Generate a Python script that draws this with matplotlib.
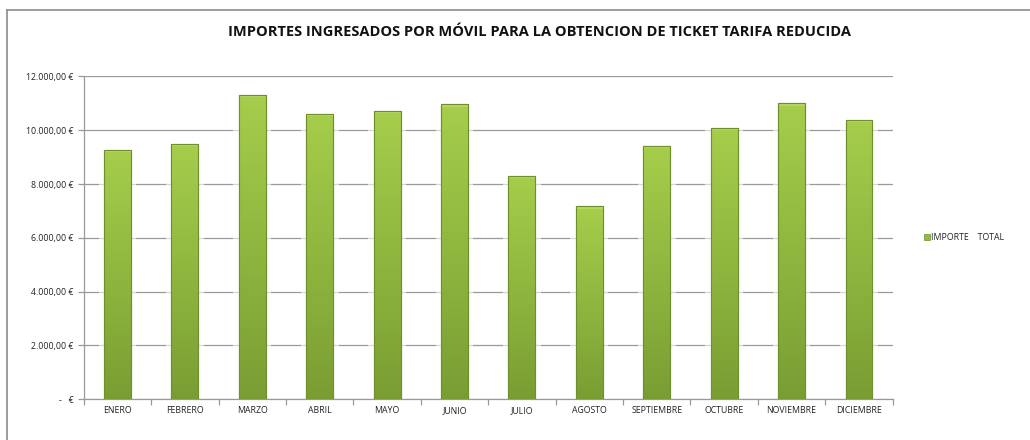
import matplotlib
matplotlib.use("Agg")
import matplotlib.pyplot as plt
import numpy as np
from matplotlib.lines import Line2D
from matplotlib.patches import Rectangle
from matplotlib.ticker import FuncFormatter, FixedLocator

months = ["ENERO", "FEBRERO", "MARZO", "ABRIL", "MAYO", "JUNIO", "JULIO",
          "AGOSTO", "SEPTIEMBRE", "OCTUBRE", "NOVIEMBRE", "DICIEMBRE"]
importe_total = [9270, 9490, 11310, 10600, 10730, 10960, 8290,
                 7170, 9420, 10100, 11000, 10390]
y_ticks = [0, 2000, 4000, 6000, 8000, 10000, 12000]
title = "IMPORTES INGRESADOS POR MÓVIL PARA LA OBTENCION DE TICKET TARIFA REDUCIDA"
legend_label = "IMPORTE    TOTAL"

plt.rcParams['font.family'] = ['Open Sans', 'DejaVu Sans']

fig = plt.figure(figsize=(10.3, 4.4), dpi=100)
fig.patch.set_facecolor("white")

# outer chart frame (top and left edges visible)
fig.add_artist(Line2D([7/1030, 1.0], [1 - 10/440, 1 - 10/440], color="#8c8c8c", lw=1.2,
                      transform=fig.transFigure))
fig.add_artist(Line2D([7/1030, 7/1030], [0.0, 1 - 10/440], color="#8c8c8c", lw=1.2,
                      transform=fig.transFigure))

ax = fig.add_axes([83.7/1030, 1 - 399.3/440, (892.7 - 83.7)/1030, (399.3 - 76.5)/440])
x = np.arange(len(months))
bars = ax.bar(x, importe_total, width=0.40, color="#93bb43", edgecolor="#6f8f2e",
              linewidth=0.8, zorder=3)

# vertical gradient fill clipped to each bar
cmap = matplotlib.colors.LinearSegmentedColormap.from_list(
    "g", ["#7a9d33", "#8fb73f", "#a6cd4b"])
grad = np.linspace(0, 1, 256).reshape(-1, 1)
for b in bars:
    bx, by = b.get_x(), b.get_y()
    w, h = b.get_width(), b.get_height()
    # soft halo behind the bar over the gridlines
    ax.add_patch(Rectangle((bx - 0.08, by), w + 0.16, h, facecolor="white",
                           edgecolor="none", alpha=0.6, zorder=2))
    im = ax.imshow(grad, extent=[bx, bx + w, by, by + h], origin="lower",
                   cmap=cmap, aspect="auto", zorder=3.5)
    im.set_clip_path(b)
    # light top cap
    ax.add_patch(Rectangle((bx, by + h - 80), w, 80, facecolor="#b5d860",
                           edgecolor="none", zorder=3.6))
    ax.add_patch(Rectangle((bx, by), w, h, facecolor="none", edgecolor="#6f8f2e",
                           linewidth=0.8, zorder=3.7))

ax.set_xlim(-0.5, len(months) - 0.5)
ax.set_ylim(0, 12000)

def fmt(v, pos):
    if v == 0:
        return "-   €"
    s = f"{v:,.2f}".replace(",", "X").replace(".", ",").replace("X", ".")
    return s + " €"

ax.yaxis.set_major_locator(FixedLocator(y_ticks))
ax.yaxis.set_major_formatter(FuncFormatter(fmt))
ax.grid(axis="y", color="#999999", lw=0.9, zorder=0)
ax.set_axisbelow(True)

ax.set_xticks(x)
ax.set_xticklabels(months)
ax.set_xticks(np.arange(-0.5, len(months)), minor=True)
ax.tick_params(axis="x", which="major", length=0, labelsize=6.3, pad=5, colors="#222222")
ax.tick_params(axis="x", which="minor", length=4, color="#999999", width=0.9)
ax.tick_params(axis="y", which="major", length=4, direction="out", color="#999999",
               width=0.9, labelsize=6.3, labelcolor="#222222")

for side in ["top", "right"]:
    ax.spines[side].set_visible(False)
ax.spines["left"].set_color("#999999")
ax.spines["bottom"].set_color("#999999")
ax.spines["left"].set_linewidth(0.9)
ax.spines["bottom"].set_linewidth(0.9)

fig.text(540/1030, 1 - 32/440, title, ha="center", va="center", fontsize=10.5,
         fontweight="bold", color="#111111")

# legend
fig.add_artist(Rectangle((924/1030, 1 - 240/440), 6/1030, 6/440, facecolor="#93bb43",
                         edgecolor="#6f8f2e", lw=0.5, transform=fig.transFigure))
fig.text(931/1030, 1 - 237/440, legend_label, ha="left", va="center", fontsize=6.3,
         color="#222222")

fig.savefig("out.png", dpi=100, facecolor="white")
